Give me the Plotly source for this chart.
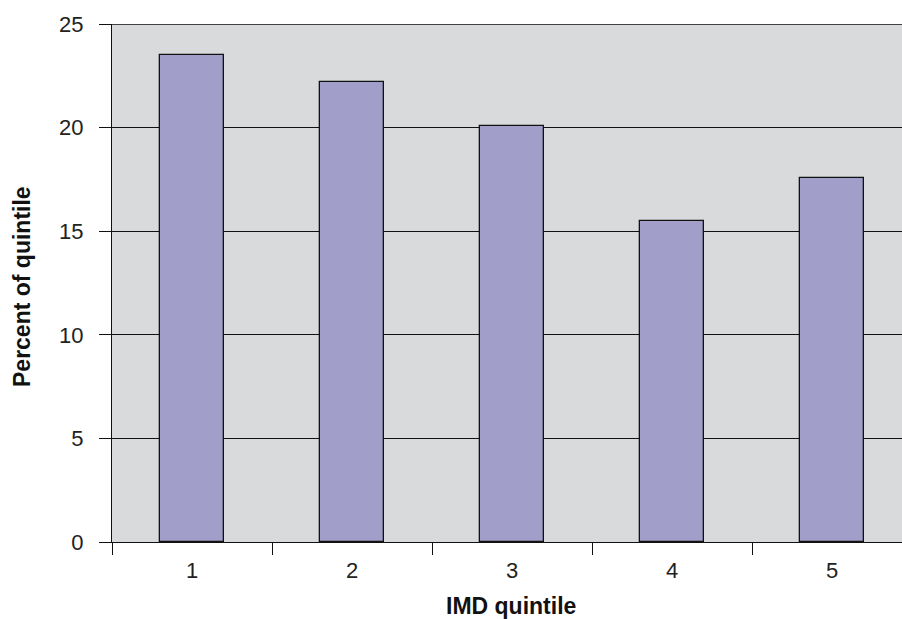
import plotly.graph_objects as go

# IMD quintile shares
quintiles = [1, 2, 3, 4, 5]
percent_of_quintile = [23.5, 22.2, 20.1, 15.5, 17.55]
y_ticks = [0, 5, 10, 15, 20, 25]

W, H = 902, 619
L, T, B = 112, 24, 77
plot_w = W - L
plot_h = H - T - B
cat_w = 160.0

fig = go.Figure()
fig.add_trace(go.Bar(
    x=quintiles,
    y=percent_of_quintile,
    width=0.4,
    marker=dict(color="#a19fca", line=dict(color="#111111", width=1.3)),
    hoverinfo="x+y",
))

base_font = "Liberation Sans, Arial, Helvetica, sans-serif"
tick_font = dict(family=base_font, size=22, color="#222222")
title_font = dict(family=base_font, size=23, color="#111111")

fig.update_layout(
    width=W, height=H,
    margin=dict(l=L, r=0, t=T, b=B, pad=0),
    paper_bgcolor="white",
    plot_bgcolor="#d9dadc",
    showlegend=False,
    bargap=0,
    xaxis=dict(
        range=[0.5, 0.5 + plot_w / cat_w],
        tickvals=quintiles,
        ticktext=[str(q) for q in quintiles],
        ticks="",
        tickfont=tick_font,
        showgrid=False,
        zeroline=False,
        showline=True, linecolor="#111111", linewidth=1.3,
        minor=dict(tick0=0.5, dtick=1, ticks="outside", ticklen=12,
                   tickcolor="#111111", tickwidth=1.3, showgrid=False),
        ticklabelstandoff=8,
        fixedrange=True,
    ),
    yaxis=dict(
        range=[0, 25],
        tickvals=y_ticks,
        ticks="outside", ticklen=12, tickcolor="#111111", tickwidth=1.3,
        tickfont=tick_font,
        showgrid=True, gridcolor="#111111", gridwidth=1.3,
        zeroline=False,
        showline=True, linecolor="#111111", linewidth=1.3,
        ticklabelstandoff=11,
        fixedrange=True,
    ),
    shapes=[
        # top border of the plotting area
        dict(type="line", xref="paper", yref="y", x0=0, x1=1, y0=25, y1=25,
             line=dict(color="#111111", width=1.3), layer="above"),
    ],
    annotations=[
        dict(text="<b>IMD quintile</b>", xref="paper", yref="paper",
             x=(511 - L) / plot_w, y=-(606 - (H - B)) / plot_h,
             xanchor="center", yanchor="middle", showarrow=False,
             font=title_font),
        dict(text="<b>Percent of quintile</b>", xref="paper", yref="paper",
             x=-(L - 22) / plot_w, y=(H - B - 287) / plot_h,
             xanchor="center", yanchor="middle", textangle=-90, showarrow=False,
             font=title_font),
    ],
)

fig.write_html("out.html")
